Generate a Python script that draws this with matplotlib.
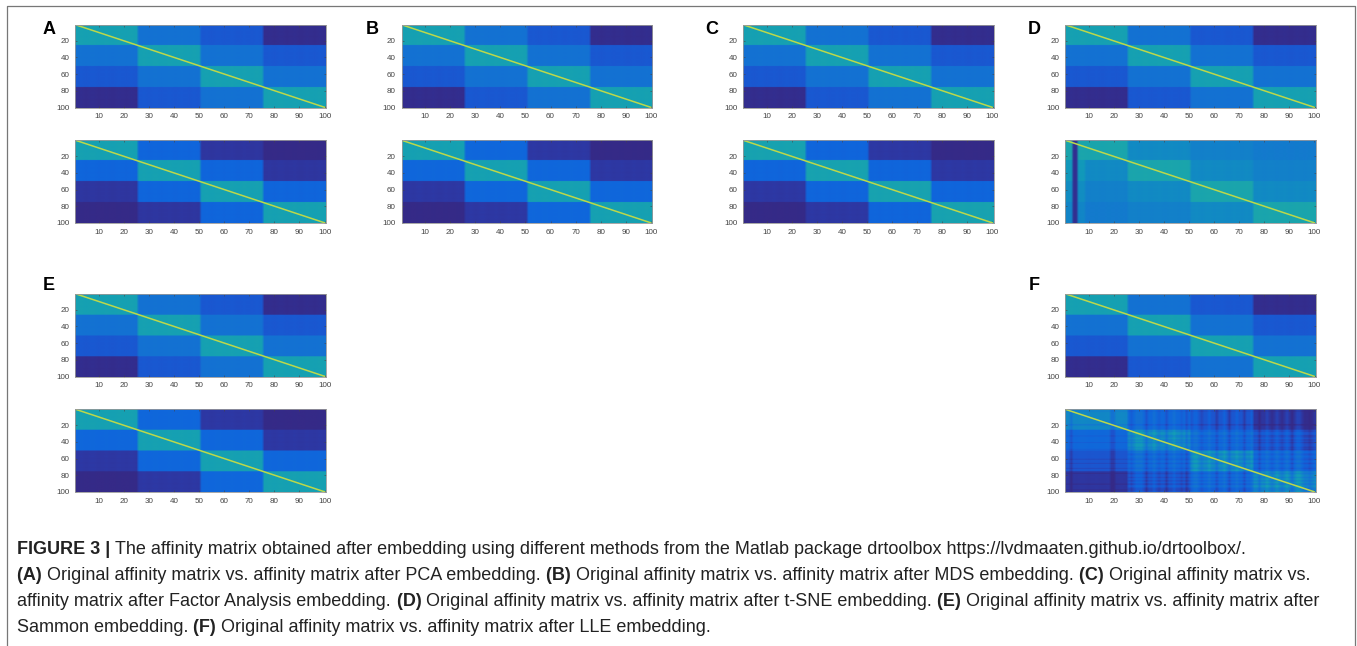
import numpy as np
from matplotlib import pyplot as plt
from matplotlib.colors import LinearSegmentedColormap
from matplotlib.lines import Line2D

W, H = 1357, 646

# block values: same class, one class away, two away, three away
blocks_orig = [0.58, 0.36, 0.21, 0.02]
blocks_pca = [0.58, 0.27, 0.07, 0.0]
blocks_mds = [0.58, 0.28, 0.08, 0.0]
blocks_fa = [0.59, 0.27, 0.08, 0.0]
blocks_sammon = [0.58, 0.28, 0.08, 0.0]
blocks_tsne = [0.61, 0.48, 0.44, 0.41]
blocks_lle = [0.47, 0.29, 0.20, 0.07]

stripes = [0, 0, 1, 0, -1, 0, 1, 1, 0, -1, 0, 0, 1, 0, -1, -1, 0, 1, 0, 0, -1, 0, 1, 0, -1]

tsne_dark_cols = [4, 5]
tsne_light_cols = [1, 2, 3, 6, 7, 8]
tsne_dark_rows = [1, 2]

lle_dark = [3, 19, 20, 33, 41, 49, 61, 66, 72, 78, 91, 98]
lle_mid = [27, 38, 47, 55, 83, 87, 96, 97, 99]
lle_light = [29, 30, 31, 36, 44, 52, 53, 58, 64, 69, 75, 81, 85, 89, 93, 94]

tick_labels = [10, 20, 30, 40, 50, 60, 70, 80, 90, 100]
row_labels = [20, 40, 60, 80, 100]

panels = ["A", "B", "C", "D", "E", "F"]
panel_x = [75.3, 401.5, 743, 1065, 75.3, 1065]
panel_y = [24.7, 24.7, 24.7, 24.7, 293.7, 293.7]
label_x = [49, 372, 712, 1034, 49, 1034]
label_y = [30, 30, 30, 30, 285, 285]
lower_blocks = [blocks_pca, blocks_mds, blocks_fa, blocks_tsne, blocks_sammon, blocks_lle]

caption = [
    [("FIGURE 3 | ", True), ("The affinity matrix obtained after embedding using different methods from the Matlab package drtoolbox https://lvdmaaten.github.io/drtoolbox/.", False)],
    [("(A) ", True), ("Original affinity matrix vs. affinity matrix after PCA embedding. ", False), ("(B) ", True), ("Original affinity matrix vs. affinity matrix after MDS embedding. ", False), ("(C) ", True), ("Original affinity matrix vs.", False)],
    [("affinity matrix after Factor Analysis embedding. ", False), ("(D) ", True), ("Original affinity matrix vs. affinity matrix after t-SNE embedding. ", False), ("(E) ", True), ("Original affinity matrix vs. affinity matrix after", False)],
    [("Sammon embedding. ", False), ("(F) ", True), ("Original affinity matrix vs. affinity matrix after LLE embedding.", False)],
]
caption_y = [550, 576, 602, 628]
caption_size = 13.0

parula = LinearSegmentedColormap.from_list("parula", [
    "#352a87", "#2c3aa8", "#1e52cc", "#0f66dc", "#1472d2", "#1283c8",
    "#119cb8", "#1ea8a8", "#52b98c", "#92bf73", "#d9c456", "#f9fb0e"])


def block_matrix(values):
    group = np.repeat(np.arange(4), 25)
    dist = np.abs(group[:, None] - group[None, :])
    m = np.array(values)[dist]
    shade = np.array(stripes * 4) * 0.004
    m = m + shade[None, :] + shade[:, None] * 0.5
    return m


def tsne_matrix(values):
    m = block_matrix(values)
    for c in tsne_light_cols:
        m[25:, c - 1] += 0.05
    for r in tsne_dark_rows:
        m[r - 1, :] = 0.30
    for c in tsne_dark_cols:
        m[:, c - 1] = 0.03
    return m


def lle_matrix(values):
    m = block_matrix(values)
    for i in lle_light:
        m[:, i - 1] += 0.06
        m[i - 1, 25:] += 0.04
    for i in lle_mid:
        m[:, i - 1] -= 0.05
        m[i - 1, 25:] -= 0.04
    for i in lle_dark:
        m[:, i - 1] -= 0.10
        m[i - 1, :] -= 0.06
    return np.clip(m, 0, 1)


def draw_matrix(fig, x, y, m):
    w, h = 250.5, 83
    ax = fig.add_axes([x / W, 1 - (y + h) / H, w / W, h / H])
    ax.imshow(m, cmap=parula, vmin=0, vmax=1, aspect="auto",
              interpolation="bilinear", extent=(0.5, 100.5, 100.5, 0.5))
    # the unit diagonal of the affinity matrix
    ax.plot(np.arange(1, 101), np.arange(1, 101), color="#bcd84a", lw=1.1)
    ax.set_xlim(0.5, 100.5)
    ax.set_ylim(100.5, 0.5)
    ax.set_xticks(tick_labels)
    ax.set_yticks(row_labels)
    ax.tick_params(length=1.5, width=0.4, direction="in", labelsize=5.8, pad=4,
                   colors="#444444", top=True, right=True)
    for s in ax.spines.values():
        s.set_color("#999999")
        s.set_linewidth(0.6)
    return ax


def draw_caption_line(fig, renderer, segments, y):
    x = 17
    for txt, bold in segments:
        weight = "bold" if bold else "normal"
        fig.text(x / W, 1 - y / H, txt, fontsize=caption_size, va="center", ha="left",
                 color="#222222", fontweight=weight)
        # trailing spaces count in the advance, so measure with a marker
        probe = fig.text(0, 0, txt.replace(" ", "\u00a0"), fontsize=caption_size,
                         fontweight=weight)
        x += probe.get_window_extent(renderer).width
        probe.remove()


def main():
    plt.rcParams["font.family"] = ["Liberation Sans", "DejaVu Sans"]
    fig = plt.figure(figsize=(W / 100, H / 100), dpi=100)

    for i, name in enumerate(panels):
        x, y = panel_x[i], panel_y[i]
        draw_matrix(fig, x, y, block_matrix(blocks_orig))
        if name == "D":
            lower = tsne_matrix(lower_blocks[i])
        elif name == "F":
            lower = lle_matrix(lower_blocks[i])
        else:
            lower = block_matrix(lower_blocks[i])
        draw_matrix(fig, x, y + 115.5, lower)
        fig.text(label_x[i] / W, 1 - label_y[i] / H, name, fontsize=13,
                 fontweight="bold", ha="center", va="center", color="black")

    renderer = fig.canvas.get_renderer()
    for segments, y in zip(caption, caption_y):
        draw_caption_line(fig, renderer, segments, y)

    # outer frame of the figure box, open at the bottom
    frame_x = [7 / W, 7 / W, 1355 / W, 1355 / W]
    frame_y = [0, 1 - 6 / H, 1 - 6 / H, 0]
    fig.add_artist(Line2D(frame_x, frame_y, color="#777777", lw=0.9))

    fig.savefig("out.png", dpi=100)


if __name__ == "__main__":
    main()
